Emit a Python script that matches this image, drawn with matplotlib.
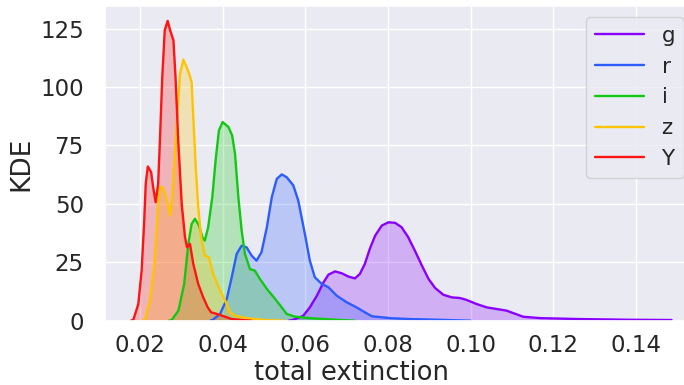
import matplotlib
matplotlib.use("Agg")
import matplotlib.pyplot as plt
import seaborn as sns

# density curves per band, sampled along total extinction
bands = ["g", "r", "i", "z", "Y"]
colors = ["#8a00ff", "#2d5cff", "#12c812", "#ffc400", "#ff1414"]

g_x = [0.0560, 0.0571, 0.0595, 0.0611, 0.0628, 0.0644, 0.0656, 0.0672, 0.0688,
       0.0704, 0.0720, 0.0732, 0.0744, 0.0756, 0.0769, 0.0785, 0.0801, 0.0817,
       0.0833, 0.0849, 0.0865, 0.0882, 0.0898, 0.0914, 0.0934, 0.0954, 0.0974,
       0.0990, 0.1015, 0.1039, 0.1087, 0.1127, 0.1168, 0.1265, 0.1386, 0.1486]
g_y = [0.0, 0.4, 2.1, 5.7, 10.7, 16.4, 19.7, 21.1, 20.3,
       18.9, 18.1, 20.0, 24.3, 30.7, 36.4, 40.7, 42.1, 41.9,
       40.0, 35.7, 30.0, 23.6, 17.9, 14.0, 11.1, 10.0, 9.7,
       8.9, 7.1, 5.7, 4.3, 1.7, 1.1, 0.7, 0.4, 0.3]

r_x = [0.0370, 0.0377, 0.0394, 0.0410, 0.0422, 0.0434, 0.0446, 0.0458, 0.0470,
       0.0482, 0.0494, 0.0507, 0.0519, 0.0531, 0.0543, 0.0555, 0.0571, 0.0583,
       0.0599, 0.0611, 0.0623, 0.0640, 0.0656, 0.0676, 0.0700, 0.0724, 0.0744,
       0.0761, 0.0805, 0.0853, 0.0926, 0.1000]
r_y = [0.0, 0.5, 2.9, 9.3, 18.6, 28.6, 32.1, 31.4, 27.9,
       25.7, 29.3, 40.0, 52.9, 60.7, 62.6, 61.4, 57.9, 51.4,
       37.1, 25.7, 18.6, 15.7, 14.3, 10.7, 7.9, 5.7, 3.6,
       1.9, 1.1, 0.7, 0.4, 0.0]

i_x = [0.0270, 0.0277, 0.0293, 0.0307, 0.0317, 0.0325, 0.0333, 0.0343, 0.0351,
       0.0357, 0.0365, 0.0375, 0.0383, 0.0391, 0.0400, 0.0414, 0.0423, 0.0430,
       0.0438, 0.0446, 0.0454, 0.0466, 0.0478, 0.0490, 0.0507, 0.0527, 0.0543,
       0.0555, 0.0575, 0.0611, 0.0676, 0.0720]
i_y = [0.0, 0.3, 4.3, 15.7, 32.9, 41.4, 43.6, 40.7, 35.7,
       34.3, 40.0, 52.9, 68.6, 81.4, 85.0, 82.9, 79.3, 71.4,
       52.9, 38.6, 28.6, 22.1, 21.4, 17.9, 13.6, 9.3, 5.7,
       2.9, 1.7, 1.1, 0.4, 0.0]

z_x = [0.0205, 0.0212, 0.0224, 0.0235, 0.0242, 0.0248, 0.0254, 0.0260, 0.0267,
       0.0273, 0.0278, 0.0285, 0.0291, 0.0297, 0.0305, 0.0311, 0.0319, 0.0325,
       0.0329, 0.0335, 0.0341, 0.0348, 0.0357, 0.0367, 0.0377, 0.0394, 0.0410,
       0.0418, 0.0430, 0.0462, 0.0502, 0.0550]
z_y = [0.0, 0.4, 8.6, 24.3, 44.3, 57.1, 57.1, 55.0, 50.0,
       45.0, 52.9, 72.9, 90.0, 105.7, 111.7, 109.3, 105.7, 102.1,
       87.1, 65.7, 48.6, 35.7, 27.9, 27.1, 20.0, 12.9, 7.1,
       3.6, 2.1, 1.0, 0.3, 0.0]

Y_x = [0.0178, 0.0184, 0.0196, 0.0204, 0.0210, 0.0214, 0.0219, 0.0227, 0.0232,
       0.0238, 0.0244, 0.0248, 0.0254, 0.0260, 0.0267, 0.0273, 0.0281, 0.0286,
       0.0293, 0.0301, 0.0309, 0.0314, 0.0321, 0.0329, 0.0341, 0.0353, 0.0364,
       0.0372, 0.0386, 0.0406, 0.0422, 0.0446, 0.0470]
Y_y = [0.0, 0.4, 7.1, 21.4, 41.4, 58.6, 66.0, 63.6, 57.1,
       50.7, 58.6, 75.7, 104.3, 124.3, 128.3, 124.3, 120.0, 104.3,
       75.7, 50.0, 35.7, 31.4, 32.9, 24.3, 15.7, 10.0, 5.7,
       3.6, 2.9, 1.7, 0.7, 0.3, 0.0]

curves = [(g_x, g_y), (r_x, r_y), (i_x, i_y), (z_x, z_y), (Y_x, Y_y)]

sns.set_theme(style="darkgrid", font_scale=1.6)

fig = plt.figure(figsize=(6.84, 3.85), dpi=100)
# axes runs slightly past the right edge of the canvas
ax = fig.add_axes([0.153, 0.167, 0.856, 0.817])

for band, col, (xs, ys) in zip(bands, colors, curves):
    ax.fill_between(xs, ys, color=col, alpha=0.25, lw=0)
    ax.plot(xs, ys, color=col, lw=1.7, label=band)

ax.set_xlim(0.01146, 0.1531)
ax.set_ylim(0, 134.6)
ax.set_xticks([0.02, 0.04, 0.06, 0.08, 0.10, 0.12, 0.14])
ax.set_yticks([0, 25, 50, 75, 100, 125])
ax.tick_params(axis="both", labelsize=16.5)
ax.tick_params(axis="y", pad=9)
ax.set_xlabel("total extinction", fontsize=18.5, labelpad=1)
ax.set_ylabel("KDE", fontsize=19)
ax.xaxis.set_label_coords(0.422, -0.126)

ax.legend(loc="upper left", bbox_to_anchor=(0.857, 0.955),
          bbox_transform=fig.transFigure, fontsize=15.5,
          handlelength=2.3, borderaxespad=0)

fig.savefig("out.png", dpi=100)
